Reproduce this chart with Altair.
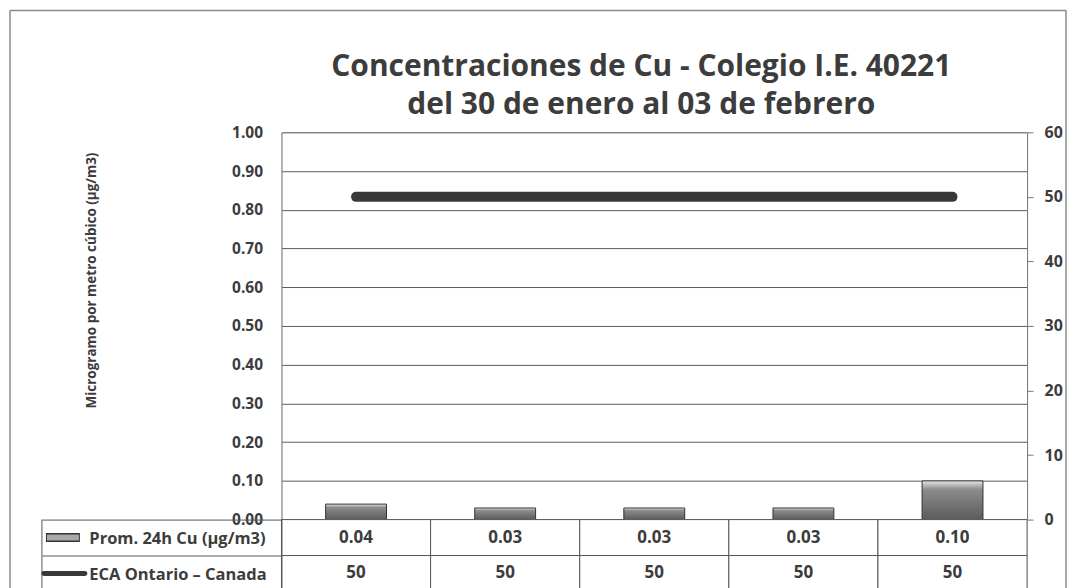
import altair as alt
import pandas as pd

# ---- data ----
fechas = ["30-ene", "31-ene", "01-feb", "02-feb", "03-feb"]
cu_24h = [0.04, 0.03, 0.03, 0.03, 0.10]
eca_ontario = [50, 50, 50, 50, 50]
filas = ["Prom. 24h Cu (µg/m3)", "ECA Ontario – Canada"]
left_ticks = [0.0, 0.1, 0.2, 0.3, 0.4, 0.5, 0.6, 0.7, 0.8, 0.9, 1.0]
right_ticks = [0, 10, 20, 30, 40, 50, 60]
titulo = ["Concentraciones de Cu -  Colegio I.E. 40221", "del 30 de enero al 03 de febrero"]
y_titulo = "Microgramo por metro cúbico (µg/m3)"

df = pd.DataFrame({"fecha": fechas, "cu": cu_24h, "eca": eca_ontario})
tabla = pd.DataFrame(
    [{"fecha": f, "fila": filas[0], "valor": f"{c:.2f}"} for f, c in zip(fechas, cu_24h)]
    + [{"fecha": f, "fila": filas[1], "valor": f"{e}"} for f, e in zip(fechas, eca_ontario)]
)

FONT = "Open Sans"
TXT = "#3c3c3c"
W, H, TH = 747, 388, 72

xsc = alt.Scale(domain=fechas, paddingInner=0, paddingOuter=0)

grad = alt.Gradient(
    gradient="linear",
    stops=[
        alt.GradientStop(color="#e6e6e6", offset=0),
        alt.GradientStop(color="#8c8c8c", offset=0.22),
        alt.GradientStop(color="#5c5c5c", offset=1),
    ],
    x1=0, x2=0, y1=0, y2=1,
)

bars = alt.Chart(df).mark_bar(size=61, color=grad, stroke="#333333", strokeWidth=1).encode(
    x=alt.X("fecha:N", scale=xsc, axis=None, sort=fechas),
    y=alt.Y(
        "cu:Q",
        scale=alt.Scale(domain=[0, 1], nice=False),
        axis=alt.Axis(
            values=left_ticks, format=".2f", title=y_titulo, grid=True,
            gridColor="#5a5a5a", gridWidth=1, ticks=False, labelPadding=19,
            domainColor="#777777", labelFont=FONT, labelFontSize=15.5,
            labelFontWeight="bold", labelColor=TXT, titleFont=FONT,
            titleFontSize=13.5, titleFontWeight="bold", titleColor=TXT,
            titleX=-190, titleY=148, titleAngle=270, titleAlign="center",
            titleBaseline="middle",
        ),
    ),
)

line = alt.Chart(df).mark_line(strokeWidth=10, strokeCap="round", color="#383838").encode(
    x=alt.X("fecha:N", scale=xsc, axis=None, sort=fechas),
    y=alt.Y(
        "eca:Q",
        scale=alt.Scale(domain=[0, 60], nice=False),
        axis=alt.Axis(
            orient="right", values=right_ticks, title=None, grid=False,
            tickSize=6, tickColor="#777777", labelPadding=11,
            domainColor="#777777", labelFont=FONT, labelFontSize=16,
            labelFontWeight="bold", labelColor=TXT,
        ),
    ),
)

top = alt.layer(bars, line).resolve_scale(y="independent").properties(
    width=W, height=H,
    title=alt.Title(
        text=titulo, font=FONT, fontSize=30, fontWeight="bold", color=TXT,
        anchor="middle", frame="group", dx=-13, offset=4, lineHeight=38,
    ),
)

one = pd.DataFrame({"k": [0]})
FT = -(H + 122)  # frame top, relative to the table
FL, FR = -272, 786
frame_left = alt.Chart(one).mark_rule(color="#8a8a8a", strokeWidth=1.5).encode(
    x=alt.value(FL), x2=alt.value(FL), y=alt.value(FT), y2=alt.value(TH))
frame_top = alt.Chart(one).mark_rule(color="#8a8a8a", strokeWidth=1.5).encode(
    x=alt.value(FL), x2=alt.value(FR), y=alt.value(FT), y2=alt.value(FT))
frame_right = alt.Chart(one).mark_rule(color="#8a8a8a", strokeWidth=1.5).encode(
    x=alt.value(FR), x2=alt.value(FR), y=alt.value(FT), y2=alt.value(TH))

ysc_t = alt.Scale(domain=filas, paddingInner=0, paddingOuter=0)
cells = alt.Chart(tabla).mark_rect(fill="white", stroke="#555555", strokeWidth=1).encode(
    x=alt.X("fecha:N", scale=xsc, axis=None, sort=fechas),
    y=alt.Y(
        "fila:N", scale=ysc_t, sort=filas,
        axis=alt.Axis(
            title=None, labelAlign="left", labelPadding=-47, tickSize=240,
            tickBand="extent", tickColor="#555555", domainColor="#555555",
            labelFont=FONT, labelFontSize=16.5, labelFontWeight="bold",
            labelColor=TXT, labelBaseline="middle", labelOffset=1,
        ),
    ),
)
valores = alt.Chart(tabla).mark_text(
    font=FONT, fontSize=17, fontWeight="bold", color=TXT
).encode(
    x=alt.X("fecha:N", scale=xsc, axis=None, sort=fechas),
    y=alt.Y("fila:N", scale=ysc_t, sort=filas),
    text="valor:N",
)
tab_left = alt.Chart(one).mark_rule(color="#555555", strokeWidth=1).encode(
    x=alt.value(-240), x2=alt.value(-240), y=alt.value(0), y2=alt.value(TH))
sym_df = pd.DataFrame({"fila": filas})
sym_bar_out = alt.Chart(sym_df.iloc[[0]]).mark_rule(color="#333333", strokeWidth=9).encode(
    y=alt.Y("fila:N", scale=ysc_t, sort=filas), x=alt.value(-236), x2=alt.value(-202))
sym_bar_in = alt.Chart(sym_df.iloc[[0]]).mark_rule(color="#a8a8a8", strokeWidth=6).encode(
    y=alt.Y("fila:N", scale=ysc_t, sort=filas), x=alt.value(-235), x2=alt.value(-203))
sym_line = alt.Chart(sym_df.iloc[[1]]).mark_rule(color="#383838", strokeWidth=5, strokeCap="round").encode(
    y=alt.Y("fila:N", scale=ysc_t, sort=filas), x=alt.value(-238), x2=alt.value(-197))

table = alt.layer(
    frame_left, frame_top, frame_right,
    cells, valores, tab_left, sym_bar_out, sym_bar_in, sym_line,
).properties(width=W, height=TH)

chart = alt.vconcat(top, table, spacing=0, bounds="flush").properties(
    padding={"left": 0, "top": 0, "right": 0, "bottom": 0}
).configure_view(stroke=None).configure(background="white")

chart.save("out.html", embed_options={"renderer": "svg", "actions": False})
